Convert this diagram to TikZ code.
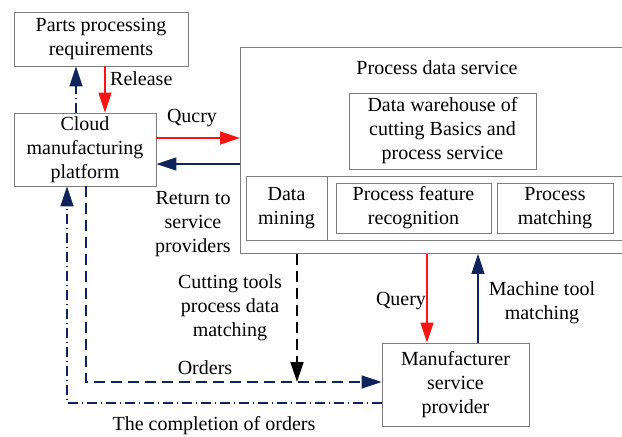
\documentclass[tikz,border=0pt]{standalone}
\usepackage{fontspec}
\setmainfont{Liberation Serif}
\usetikzlibrary{arrows.meta}
\definecolor{navyline}{RGB}{16,36,92}
\definecolor{redline}{RGB}{250,20,20}
\definecolor{boxgray}{RGB}{125,125,125}
\tikzset{
  box/.style={draw=boxgray, line width=0.9pt, align=center, inner sep=0pt,
    font=\fontsize{20}{24}\selectfont},
  lbl/.style={align=center, inner sep=0pt, font=\fontsize{20}{24}\selectfont},
  tip/.style={-{Triangle[length=20pt,width=13pt]}},
  redarrow/.style={tip, draw=redline, line width=1.4pt},
  navyarrow/.style={tip, draw=navyline, line width=1.4pt},
  dashline/.style={line width=1.4pt, dash pattern=on 11pt off 6pt},
  dotdashline/.style={line width=1.2pt, dash pattern=on 10pt off 4pt on 1pt off 4pt},
}
\begin{document}
\begin{tikzpicture}[x=1pt,y=-1pt]
\useasboundingbox (0,0) rectangle (622,437);

% boxes
\node[box, minimum width=174, minimum height=54] (parts) at (101,39)
  {Parts processing\\requirements};
\node[box, minimum width=142, minimum height=73] (cloud) at (85,149.5)
  {Cloud\\manufacturing\\platform};
\node[box, minimum width=390, minimum height=206, anchor=north west] (pds) at (240,47) {};
\node[lbl] (pdstitle) at (437,68) {Process data service};
\node[box, minimum width=187, minimum height=76] (ware) at (442.5,131)
  {Data warehouse of\\cutting Basics and\\process service};
\node[box, minimum width=380, minimum height=64, anchor=north west] (strip) at (246,176) {};
\draw[boxgray, line width=0.9pt] (327,176) -- (327,240);
\node[lbl] (mining) at (286.5,208) {Data\\mining};
\node[box, minimum width=155, minimum height=50] (feature) at (413.5,208)
  {Process feature\\recognition};
\node[box, minimum width=116, minimum height=50] (pmatch) at (555,208)
  {Process\\matching};
\node[box, minimum width=147, minimum height=83] (mfr) at (455.5,384.5)
  {Manufacturer\\service\\provider};

% helper positions for connectors
\coordinate (xrel) at (105,0);
\coordinate (xup) at (76,0);
\coordinate (yq) at (0,138);
\coordinate (yret) at (0,164);
\coordinate (xord) at (86,0);
\coordinate (yord) at (0,382);
\coordinate (xcut) at (297,0);
\coordinate (xcomp) at (67,0);
\coordinate (ycomp) at (0,403);
\coordinate (xq) at (427,0);
\coordinate (xmt) at (478,0);

% connectors
\draw[redarrow] (parts.south -| xrel) -- (cloud.north -| xrel);
\draw[navyarrow, dotdashline] (cloud.north -| xup) -- (parts.south -| xup);
\draw[redarrow] (cloud.east |- yq) -- (pds.west |- yq);
\draw[navyarrow] (pds.west |- yret) -- (cloud.east |- yret);
\draw[navyarrow, dashline] (cloud.south -| xord) -- (xord |- yord) -- (mfr.west |- yord);
\draw[tip, black, dashline] (pds.south -| xcut) -- (xcut |- yord);
\draw[navyarrow, dotdashline] (mfr.west |- ycomp) -- (xcomp |- ycomp) -- (cloud.south -| xcomp);
\draw[redarrow] (pds.south -| xq) -- (mfr.north -| xq);
\draw[navyarrow] (mfr.north -| xmt) -- (pds.south -| xmt);

% labels
\node[lbl, anchor=west] (lrelease) at (110,79) {Release};
\node[lbl] (lquery1) at (192,118) {Qucry};
\node[lbl] (lreturn) at (193,224) {Return to\\service\\providers};
\node[lbl] (lcut) at (230,308) {Cutting tools\\process data\\matching};
\node[lbl] (lorders) at (205,368) {Orders};
\node[lbl] (lcomp) at (214,426) {The completion of orders};
\node[lbl] (lquery2) at (401,301) {Query};
\node[lbl] (lmt) at (542,303) {Machine tool\\matching};
\end{tikzpicture}
\end{document}
